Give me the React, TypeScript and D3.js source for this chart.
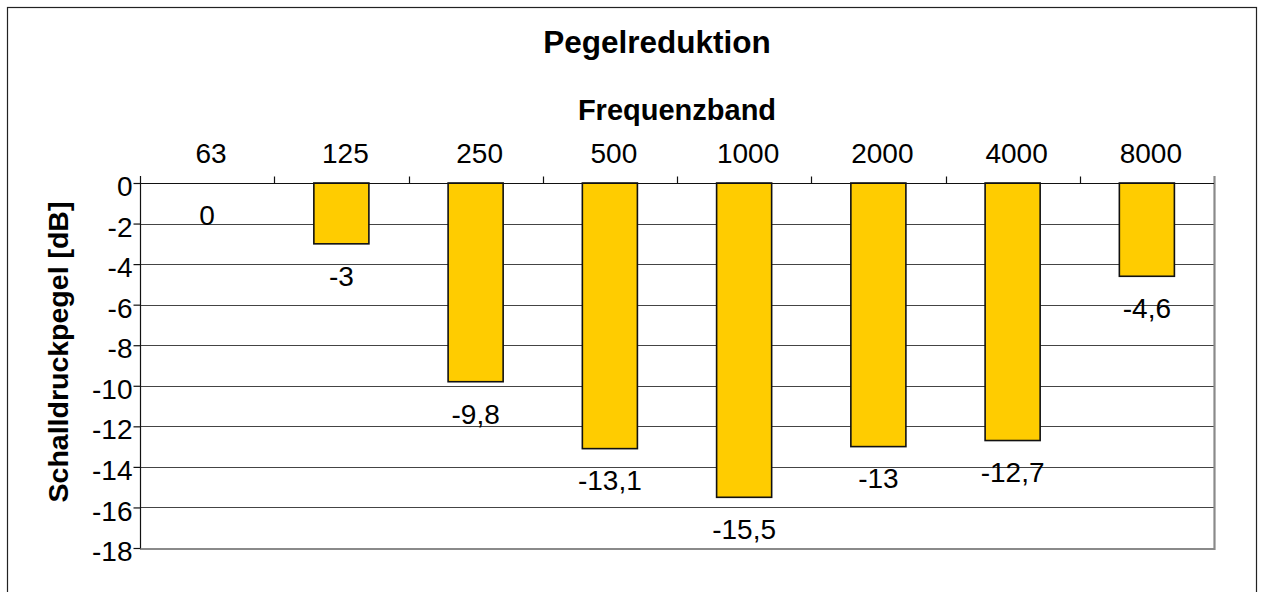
import { useEffect, useRef } from "react";
import * as d3 from "d3";

const bands = ["63", "125", "250", "500", "1000", "2000", "4000", "8000"];
const levels = [0, -3, -9.8, -13.1, -15.5, -13, -12.7, -4.6];
const yTicks = [0, -2, -4, -6, -8, -10, -12, -14, -16, -18];

const W = 1265;
const H = 592;
const margin = { top: 183, right: 51, bottom: 44, left: 140 };
const font = "'Liberation Sans', Arial, sans-serif";

export default function App() {
  const ref = useRef<SVGSVGElement>(null);

  useEffect(() => {
    const svg = d3.select(ref.current);
    svg.selectAll("*").remove();

    const x0 = margin.left;
    const x1 = W - margin.right;
    const y0 = margin.top;
    const y1 = H - margin.bottom;

    const x = d3.scaleBand<string>()
      .domain(bands)
      .range([x0, x1])
      .paddingInner(0.59)
      .paddingOuter(0.295);
    const step = x.step();

    const y = d3.scaleLinear().domain([0, -18]).range([y0, y1]);

    // outer frame
    svg.append("rect")
      .attr("x", 7.5).attr("y", 7.5)
      .attr("width", 1249).attr("height", 600)
      .attr("fill", "white").attr("stroke", "#222").attr("stroke-width", 1.2);

    // gridlines
    svg.append("g")
      .selectAll("line")
      .data(yTicks.filter(d => d !== 0 && d !== -18))
      .join("line")
      .attr("x1", x0).attr("x2", x1)
      .attr("y1", d => Math.round(y(d)) + 0.5)
      .attr("y2", d => Math.round(y(d)) + 0.5)
      .attr("stroke", "#444").attr("stroke-width", 1.2);

    // right / bottom border of plot area
    svg.append("path")
      .attr("d", `M${x1 + 0.5},${y0 - 7} V${Math.round(y1) + 1} H${x0}`)
      .attr("fill", "none").attr("stroke", "#8a8a8a").attr("stroke-width", 2.2);

    // bars
    svg.append("g")
      .selectAll("rect")
      .data(bands)
      .join("rect")
      .attr("x", d => x(d)!)
      .attr("y", y(0))
      .attr("width", x.bandwidth())
      .attr("height", (d, i) => y(levels[i]) - y(0))
      .attr("fill", "#FFCC00")
      .attr("stroke", "#111")
      .attr("stroke-width", 1.6)
      .attr("display", (d, i) => (levels[i] === 0 ? "none" : null));

    // value labels
    svg.append("g")
      .selectAll("text")
      .data(bands)
      .join("text")
      .attr("x", d => x(d)! + x.bandwidth() / 2)
      .attr("y", (d, i) => y(levels[i]) + 32)
      .attr("dy", "0.35em")
      .attr("text-anchor", "middle")
      .attr("font-family", font)
      .attr("font-size", 28)
      .attr("fill", "#000")
      .text((d, i) => String(levels[i]).replace(".", ","));

    // y axis
    const yAxis = svg.append("g")
      .attr("transform", `translate(${x0 + 0.5},0)`)
      .call(d3.axisLeft(y).tickValues(yTicks).tickSize(7).tickPadding(1).tickFormat(d => String(d)));
    yAxis.select(".domain").attr("d", `M0,${y0 - 7} V${y1}`).attr("stroke", "#111").attr("stroke-width", 1.2);
    yAxis.selectAll(".tick line").attr("stroke", "#111").attr("stroke-width", 1.2);
    yAxis.selectAll(".tick text")
      .attr("font-family", font).attr("font-size", 28).attr("fill", "#000")
      .attr("dy", "0.45em");

    // x axis (top)
    const xAxis = svg.append("g").attr("transform", `translate(0,${y0 + 0.5})`);
    xAxis.append("line")
      .attr("x1", x0).attr("x2", x1)
      .attr("stroke", "#111").attr("stroke-width", 1.2);
    xAxis.selectAll("line.tk")
      .data(d3.range(1, bands.length))
      .join("line")
      .attr("class", "tk")
      .attr("x1", i => Math.round(x0 + i * step) + 0.5)
      .attr("x2", i => Math.round(x0 + i * step) + 0.5)
      .attr("y1", 0).attr("y2", -7)
      .attr("stroke", "#111").attr("stroke-width", 1.2);
    xAxis.selectAll("text")
      .data(bands)
      .join("text")
      .attr("x", d => x(d)! + x.bandwidth() / 2 + 4)
      .attr("y", -21)
      .attr("text-anchor", "middle")
      .attr("font-family", font)
      .attr("font-size", 28)
      .attr("fill", "#000")
      .text(d => d);

    // titles
    svg.append("text")
      .attr("x", 657).attr("y", 53)
      .attr("text-anchor", "middle")
      .attr("font-family", font).attr("font-size", 31.5).attr("font-weight", "bold")
      .attr("fill", "#000")
      .text("Pegelreduktion");

    svg.append("text")
      .attr("x", (x0 + x1) / 2).attr("y", 120)
      .attr("text-anchor", "middle")
      .attr("font-family", font).attr("font-size", 29).attr("font-weight", "bold")
      .attr("fill", "#000")
      .text("Frequenzband");

    svg.append("text")
      .attr("transform", `translate(68,352) rotate(-90)`)
      .attr("text-anchor", "middle")
      .attr("font-family", font).attr("font-size", 28.5).attr("font-weight", "bold")
      .attr("fill", "#000")
      .text("Schalldruckpegel [dB]");
  }, []);

  return (
    <svg
      ref={ref}
      width={W}
      height={H}
      style={{ position: "absolute", left: 0, top: 0, background: "white" }}
    />
  );
}
